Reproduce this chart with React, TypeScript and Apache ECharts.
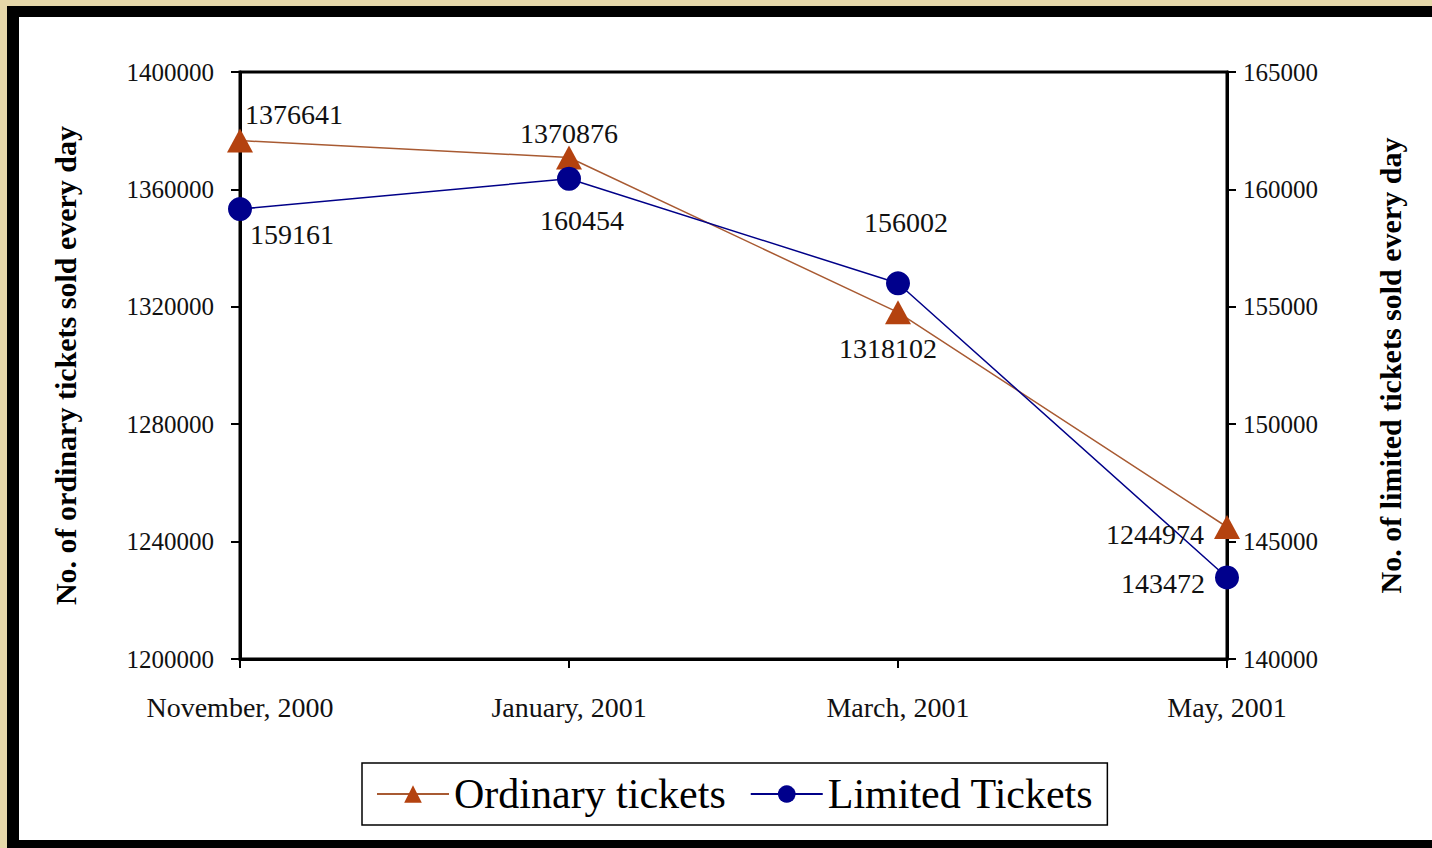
import React, { useEffect, useRef } from "react";
import * as echarts from "echarts";

const categories = ["November, 2000", "January, 2001", "March, 2001", "May, 2001"];
const ordinary = [1376641, 1370876, 1318102, 1244974];
const limited = [159161, 160454, 156002, 143472];
const ordinaryLabelOffsets = [[54, -26], [0, -24], [-10, 36], [-72, 7]];
const limitedLabelOffsets = [[52, 25], [13, 42], [8, -61], [-64, 6]];

const FONT = "Liberation Serif";

export default function App() {
  const ref = useRef<HTMLDivElement>(null);
  useEffect(() => {
    const chart = echarts.init(ref.current!, undefined, { renderer: "svg" });
    const labelStyle = { fontFamily: FONT, fontSize: 28, color: "#111" };
    chart.setOption({
      animation: false,
      backgroundColor: "#e5d7a9",
      graphic: [
        { type: "rect", shape: { x: 7, y: 6, width: 1440, height: 850 }, style: { fill: "#000" }, z: -10 },
        { type: "rect", shape: { x: 19, y: 17, width: 1420, height: 823 }, style: { fill: "#fff" }, z: -9 },
      ],
      grid: { left: 240, right: 205, top: 72, bottom: 189, show: true, borderColor: "#000", borderWidth: 3 },
      legend: {
        left: 362,
        top: 763,
        itemWidth: 72,
        itemHeight: 22,
        itemGap: 24,
        padding: [10, 14, 10, 14],
        backgroundColor: "#fff",
        borderColor: "#000",
        borderWidth: 1.5,
        textStyle: { fontFamily: FONT, fontSize: 42, color: "#000" },
        data: ["Ordinary tickets", "Limited Tickets"],
      },
      xAxis: {
        type: "category",
        data: categories,
        boundaryGap: false,
        axisLine: { lineStyle: { color: "#000", width: 3 } },
        axisTick: { show: true, length: 9, lineStyle: { color: "#000", width: 2 } },
        axisLabel: { fontFamily: FONT, fontSize: 28, color: "#111", margin: 34 },
      },
      yAxis: [
        {
          type: "value",
          min: 1200000,
          max: 1400000,
          interval: 40000,
          name: "No. of ordinary tickets sold every day",
          nameLocation: "middle",
          nameGap: 160,
          nameTextStyle: { fontFamily: FONT, fontSize: 30, fontWeight: "bold", color: "#000" },
          axisLine: { show: true, lineStyle: { color: "#000", width: 3 } },
          axisTick: { show: true, length: 9, lineStyle: { color: "#000", width: 2 } },
          axisLabel: { fontFamily: FONT, fontSize: 25, color: "#111", margin: 26, formatter: (v: number) => String(v) },
          splitLine: { show: false },
        },
        {
          type: "value",
          min: 140000,
          max: 165000,
          interval: 5000,
          position: "right",
          name: "No. of limited tickets sold every day",
          nameLocation: "middle",
          nameGap: 148,
          nameRotate: 90,
          nameTextStyle: { fontFamily: FONT, fontSize: 30, fontWeight: "bold", color: "#000" },
          axisLine: { show: true, lineStyle: { color: "#000", width: 3 } },
          axisTick: { show: true, length: 9, lineStyle: { color: "#000", width: 2 } },
          axisLabel: { fontFamily: FONT, fontSize: 25, color: "#111", margin: 16, formatter: (v: number) => String(v) },
          splitLine: { show: false },
        },
      ],
      series: [
        {
          name: "Ordinary tickets",
          type: "line",
          yAxisIndex: 0,
          symbol: "triangle",
          symbolSize: [26, 24],
          lineStyle: { color: "#a85a32", width: 1.5 },
          itemStyle: { color: "#b4420f" },
          data: ordinary.map((v, i) => ({
            value: v,
            label: { show: true, position: "inside", offset: ordinaryLabelOffsets[i], ...labelStyle },
          })),
        },
        {
          name: "Limited Tickets",
          type: "line",
          yAxisIndex: 1,
          symbol: "circle",
          symbolSize: 24,
          lineStyle: { color: "#000088", width: 1.5 },
          itemStyle: { color: "#00008c" },
          data: limited.map((v, i) => ({
            value: v,
            label: { show: true, position: "inside", offset: limitedLabelOffsets[i], ...labelStyle },
          })),
        },
      ],
    });
    return () => chart.dispose();
  }, []);
  return (
    <div
      ref={ref}
      style={{ position: "absolute", left: 0, top: 0, width: 1432, height: 848 }}
    />
  );
}
